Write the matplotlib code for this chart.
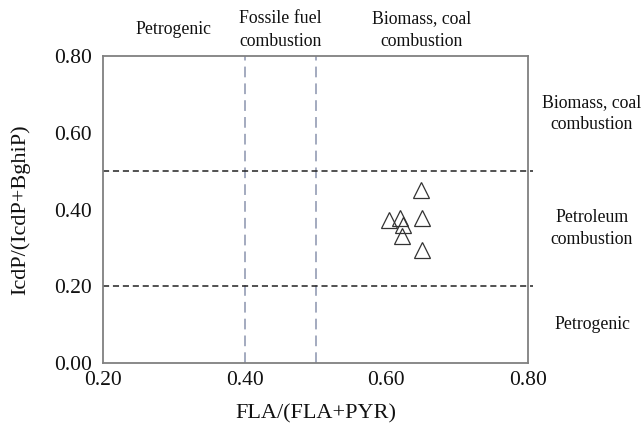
import matplotlib
matplotlib.use("Agg")
import matplotlib.pyplot as plt

# Data
fla_ratio = [0.649, 0.604, 0.619, 0.624, 0.622, 0.650, 0.650]
icdp_ratio = [0.451, 0.373, 0.378, 0.360, 0.331, 0.378, 0.294]
x_ticks = [0.20, 0.40, 0.60, 0.80]
y_ticks = [0.00, 0.20, 0.40, 0.60, 0.80]
x_thresholds = [0.4, 0.5]
y_thresholds = [0.2, 0.5]
top_labels = [(0.3, "Petrogenic"), (0.45, "Fossile fuel\ncombustion"), (0.65, "Biomass, coal\ncombustion")]
right_labels = [(0.65, "Biomass, coal\ncombustion"), (0.35, "Petroleum\ncombustion"), (0.1, "Petrogenic")]

plt.rcParams['font.family'] = ['Liberation Serif', 'DejaVu Serif']

fig = plt.figure(figsize=(6.44, 4.23), dpi=100)
W, H = 644, 423
ax = fig.add_axes([103 / W, 1 - 363 / H, (528 - 103) / W, (363 - 56) / H])

ax.set_xlim(0.2, 0.8)
ax.set_ylim(0.0, 0.8)

for xv in x_thresholds:
    ax.axvline(xv, color='#8a93ad', linestyle=(0, (7, 4)), linewidth=1.1, zorder=1)
for yv in y_thresholds:
    ax.plot([0.2, 0.807], [yv, yv], color='#222222', linestyle=(0, (4, 2.5)),
            linewidth=1.1, clip_on=False, zorder=1)

ax.plot(fla_ratio, icdp_ratio, linestyle='none', marker='^', markersize=11,
        markerfacecolor='none', markeredgecolor='#333333', markeredgewidth=0.9, zorder=3)

for s in ax.spines.values():
    s.set_color('#808080')
    s.set_linewidth(1.3)

ax.set_xticks(x_ticks)
ax.set_xticklabels([f"{v:.2f}" for v in x_ticks])
ax.set_yticks(y_ticks)
ax.set_yticklabels([f"{v:.2f}" for v in y_ticks])
ax.tick_params(axis='both', length=0, labelsize=15.5, colors='#111111')
ax.tick_params(axis='x', pad=6)
ax.tick_params(axis='y', pad=8)

ax.set_xlabel("FLA/(FLA+PYR)", fontsize=16, labelpad=10, color='#111111')
ax.set_ylabel("IcdP/(IcdP+BghiP)", fontsize=16, labelpad=17, color='#111111')

for xv, txt in top_labels:
    ax.annotate(txt, xy=(xv, 1.0), xycoords=('data', 'axes fraction'),
                xytext=(0, (56 - 30) * 0.72), textcoords='offset points',
                ha='center', va='center', fontsize=12.8, linespacing=1.4, color='#111111')

for yv, txt in right_labels:
    ax.annotate(txt, xy=(1.0, yv), xycoords=('axes fraction', 'data'),
                xytext=((592 - 528) * 0.72, 0), textcoords='offset points',
                ha='center', va='center', fontsize=12.8, linespacing=1.4, color='#111111')

fig.savefig("out.png", dpi=100)
